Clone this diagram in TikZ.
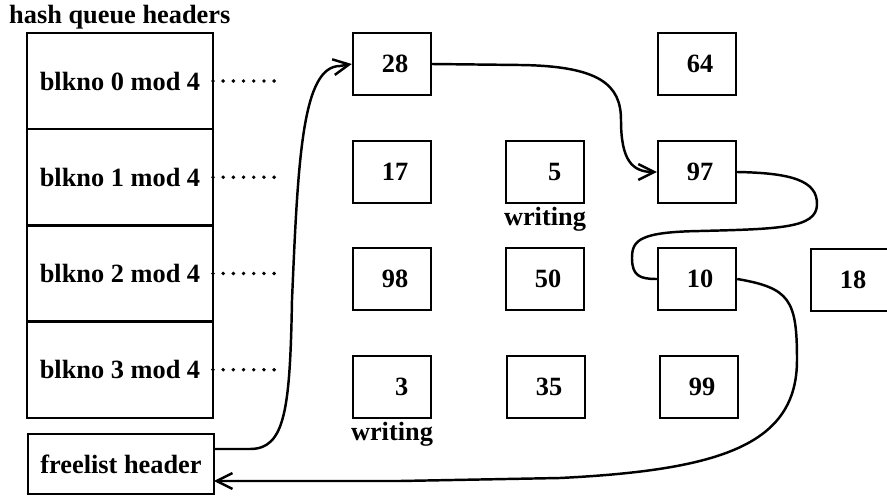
\documentclass[tikz,border=0pt]{standalone}
\usepackage{fontspec}
\setmainfont{Liberation Serif}
\usetikzlibrary{arrows.meta,positioning}

\begin{document}
\begin{tikzpicture}[x=0.02cm,y=-0.02cm,line width=1.4pt,
  buf/.style={draw,minimum width=1.56cm,minimum height=1.24cm,inner sep=0pt,font=\bfseries\fontsize{15}{18}\selectfont,execute at begin node={\hspace*{3.5pt}}},
  hq/.style={draw,outer sep=0pt,minimum width=3.72cm,minimum height=1.925cm,inner sep=0pt,font=\bfseries\fontsize{15}{18}\selectfont},
  lbl/.style={inner sep=1pt,font=\bfseries\fontsize{15}{18}\selectfont},
  dots/.style={line width=2.2pt,line cap=round,dash pattern=on 0pt off 5.8pt},
  link/.style={-{Straight Barb[length=9pt,width=9pt]}}]
\useasboundingbox (0,0) rectangle (887,497);
\node[lbl,inner sep=0pt,anchor=west] (title) at (8,17) {hash queue headers};
% hash queue headers
\node[hq] (h0) at (120,81) {blkno 0 mod 4};
\node[hq,below=0pt of h0] (h1) {blkno 1 mod 4};
\node[hq,below=0pt of h1] (h2) {blkno 2 mod 4};
\node[hq,below=0pt of h2] (h3) {blkno 3 mod 4};
\node[hq,minimum height=1.2cm] (free) at (121,464) {freelist header};
\foreach \i in {0,...,3}{
  \coordinate[right=1.24cm of h\i.east] (e\i);
  \draw[dots] (h\i.east) -- (e\i);
}
% buffers
\node[buf] (b28) at (392,64) {28};
\node[buf] (b64) at (697,64) {64};
\node[buf] (b17) at (392,172) {17};
\node[buf] (b5) at (545,172) {\phantom{0}5};
\node[buf] (b97) at (697,172) {97};
\node[buf] (b98) at (392,279) {98};
\node[buf] (b50) at (545,279) {50};
\node[buf] (b10) at (697,279) {10};
\node[buf] (b18) at (850,280) {18};
\node[buf] (b3) at (392,387) {\phantom{0}3};
\node[buf] (b35) at (546,387) {35};
\node[buf] (b99) at (699,387) {99};
\node[lbl,below=0pt of b5] (w5) {writing};
\node[lbl,below=0pt of b3] (w3) {writing};
% free list
\draw[link] ([yshift=0.3cm]free.east) -- (250,449) .. controls (285,449) and (290,410) .. (292,300)
  .. controls (298,160) and (302,66) .. (340,66) -- (b28.west);
\draw[link] (b28.east) -- (520,65) .. controls (600,66) and (621,85) .. (621,120)
  .. controls (621,160) and (632,172) .. (b97.west);
\draw (b97.east) .. controls (790,173) and (818,180) .. (817,205) .. controls (816,228) and (780,229) .. (700,231)
  .. controls (640,232) and (632,240) .. (632,258) .. controls (632,276) and (640,279) .. (b10.west);
\draw[link] (b10.east) .. controls (790,288) and (797,300) .. (797,360) .. controls (797,445) and (720,470) .. (560,478)
  -- (400,481) -- ([yshift=-0.34cm]free.east);
\end{tikzpicture}
\end{document}
